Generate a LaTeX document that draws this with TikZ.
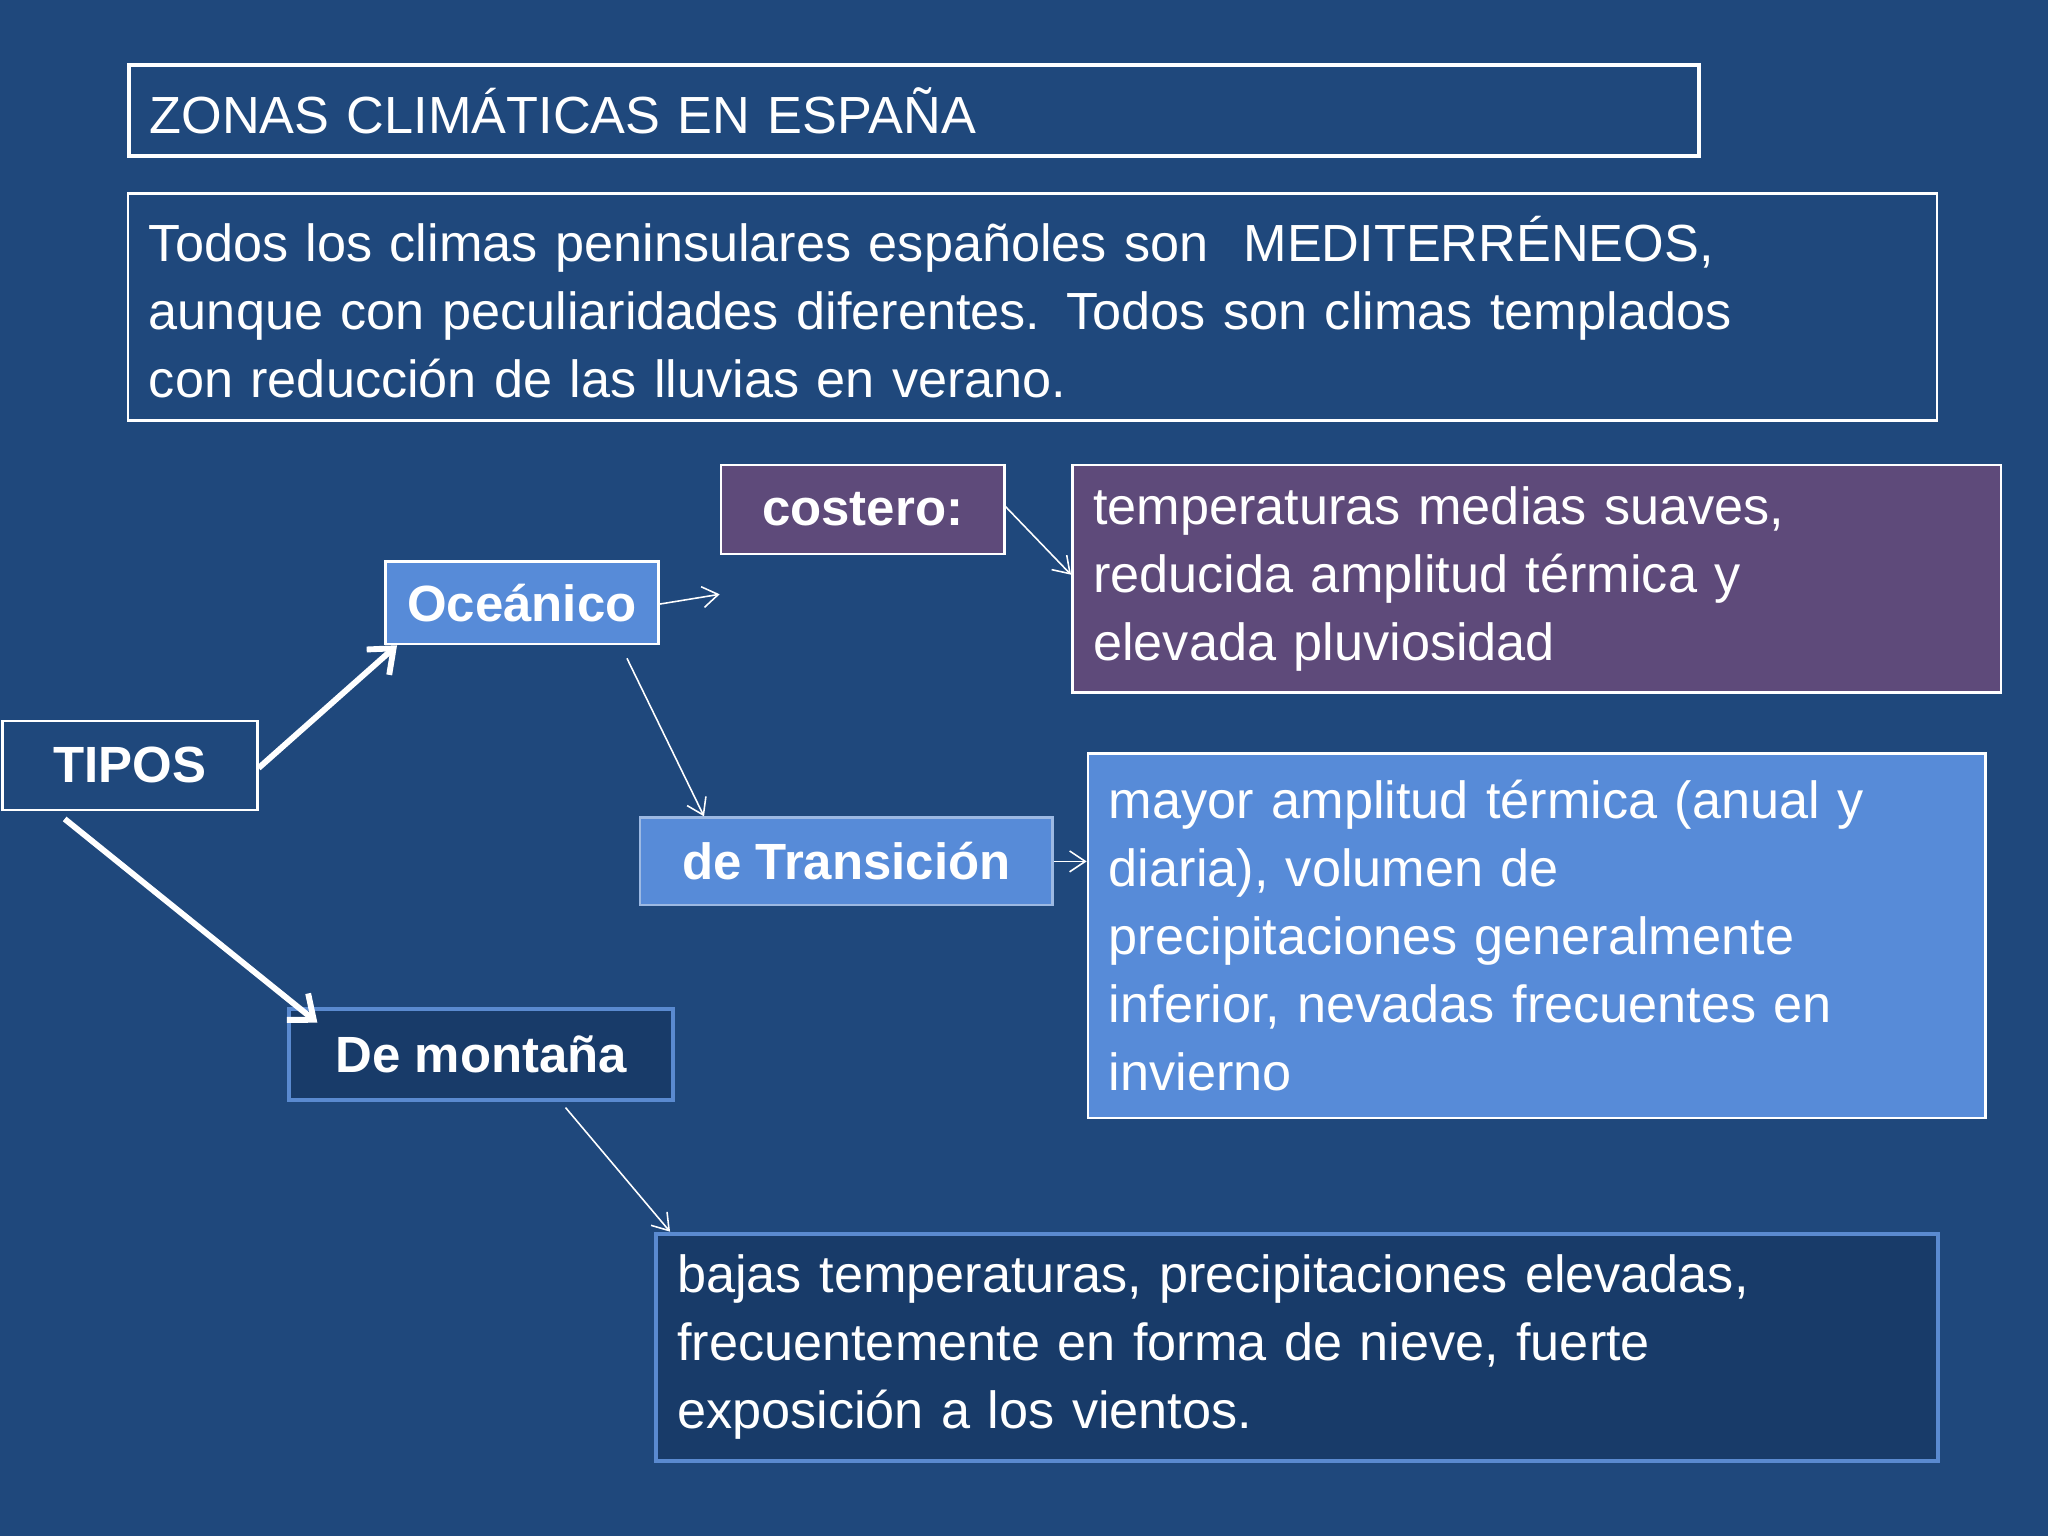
\documentclass[tikz,border=0pt]{standalone}
\usepackage{fontspec}
\setmainfont{Liberation Sans}
\usetikzlibrary{arrows.meta}
\definecolor{bg}{HTML}{1F487C}
\definecolor{purp}{HTML}{5E4A7A}
\definecolor{midb}{HTML}{578BD8}
\definecolor{darkb}{HTML}{183B69}
\definecolor{edgeb}{HTML}{5A8AD0}
\tikzset{
 box/.style={draw=white,line width=2pt,anchor=north west,inner xsep=16pt,inner ysep=0pt,align=left,text=white,font=\fontsize{40}{52}\selectfont},
 lab/.style={draw=white,line width=2pt,anchor=north west,inner sep=0pt,text=white,font=\fontsize{39}{46}\selectfont\bfseries},
 thin/.style={draw=white,line width=1.2pt,-{Straight Barb[length=12pt,width=16pt]}},
 thick/.style={draw=white,line width=4.5pt,-{Straight Barb[length=16pt,width=26pt]}}
}
\begin{document}
\begin{tikzpicture}[x=1pt,y=-1pt]
\fill[bg] (0,0) rectangle (1568,1176);
\useasboundingbox (0,0) rectangle (1568,1176);
\node[box,line width=3pt,minimum width=1202pt,minimum height=70pt,text width=1170pt] (title) at (97,48) {ZONAS CLIMÁTICAS EN ESPAÑA};
\node[box,minimum width=1385pt,minimum height=174pt,text width=1353pt] (intro) at (97,147) {Todos los climas peninsulares españoles son \ MEDITERRÉNEOS,\\aunque con peculiaridades diferentes. Todos son climas templados\\con reducción de las lluvias en verano.};
\node[lab,fill=purp,minimum width=217pt,minimum height=68pt] (cost) at (551,355) {costero:};
\node[box,fill=purp,minimum width=711pt,minimum height=174pt,text width=679pt] (costd) at (820,355) {temperaturas medias suaves,\\reducida amplitud térmica y\\elevada pluviosidad};
\node[lab,fill=midb,minimum width=209pt,minimum height=63pt] (oce) at (294,429) {Oceánico};
\node[lab,fill=bg,minimum width=195pt,minimum height=68pt] (tipos) at (1,551) {TIPOS};
\node[lab,fill=midb,draw=edgeb!60!white,minimum width=316pt,minimum height=67pt] (tran) at (489,625) {de Transición};
\node[box,fill=midb,minimum width=687pt,minimum height=279pt,text width=655pt] (trand) at (832,576) {mayor amplitud térmica (anual y\\diaria), volumen de\\precipitaciones generalmente\\inferior, nevadas frecuentes en\\invierno};
\node[lab,fill=darkb,draw=edgeb,line width=3pt,minimum width=294pt,minimum height=70pt] (mont) at (220,771) {De montaña};
\node[box,fill=darkb,draw=edgeb,line width=3pt,minimum width=981pt,minimum height=174pt,text width=949pt] (montd) at (501,943) {bajas temperaturas, precipitaciones elevadas,\\frecuentemente en forma de nieve, fuerte\\exposición a los vientos.};
\draw[thick] ([yshift=-2pt]tipos.east) -- ([xshift=10pt]oce.south west);
\draw[thick] ([xshift=-50pt,yshift=-6pt]tipos.south) -- ([xshift=23pt,yshift=-12pt]mont.north west);
\draw[thin] ([yshift=-1pt]oce.east) -- ([yshift=-30pt]cost.south west);
\draw[thin] ([yshift=2pt]cost.east) -- ([yshift=-85pt]costd.north west);
\draw[thin] ([xshift=-25pt,yshift=-10pt]oce.south east) -- ([xshift=50pt]tran.north west);
\draw[thin] (tran.east) -- (tran.east -| trand.west);
\draw[thin] ([xshift=-84pt,yshift=-4pt]mont.south east) -- ([xshift=12pt]montd.north west);
\end{tikzpicture}
\end{document}
